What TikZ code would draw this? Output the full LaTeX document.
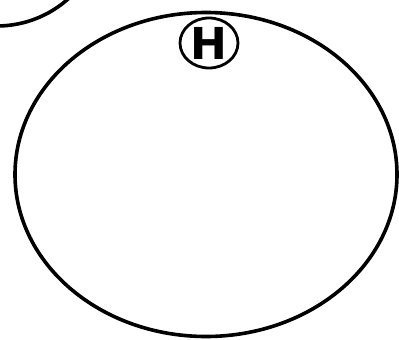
\documentclass[tikz,border=0pt]{standalone}
\usepackage{fontspec}
\setmainfont{DejaVu Sans}
\usetikzlibrary{shapes.geometric}
\begin{document}
\begin{tikzpicture}[x=1pt,y=-1pt,
  outline/.style={draw=black,line width=3.6pt},
  hmark/.style={draw=black,line width=2.8pt,ellipse,inner sep=0pt,minimum width=58pt,minimum height=50pt,font=\fontsize{44}{44}\selectfont\bfseries}]
\useasboundingbox (0,0) rectangle (399,340);
\begin{scope}
\clip (0,0) rectangle (399,340);
\draw[outline] (-3.2,-81.5) circle[radius=107.5];
\end{scope}
\draw[outline] (206,174.5) ellipse[x radius=191,y radius=162];
\node[hmark] (h) at (209,43) {H};
\end{tikzpicture}
\end{document}
